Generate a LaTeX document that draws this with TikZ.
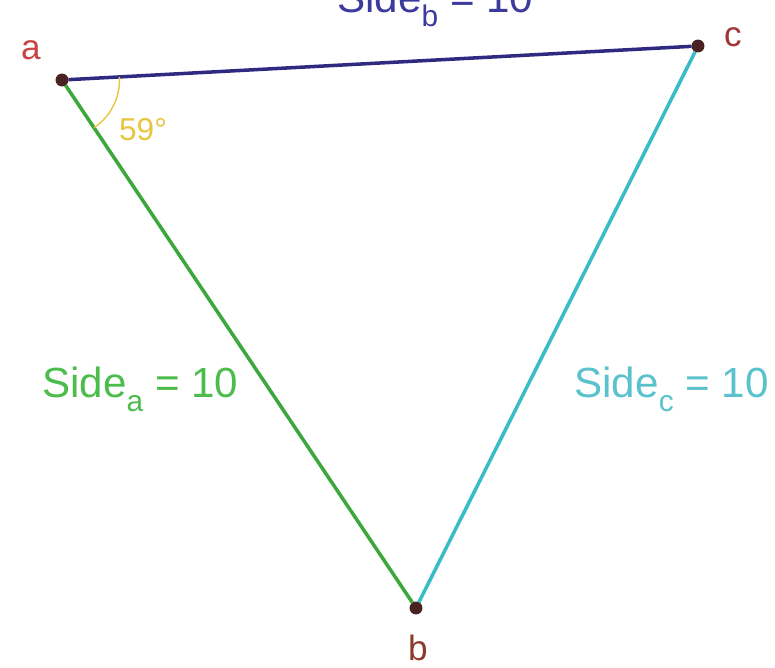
\documentclass[tikz,border=0pt]{standalone}
\usepackage{fontspec}
\setmainfont{Liberation Sans}
\usepackage{xcolor}
\usetikzlibrary{calc}
\definecolor{sidebline}{HTML}{2F2A80}
\definecolor{sidebtext}{HTML}{3C3A9C}
\definecolor{sidealine}{HTML}{3CA83C}
\definecolor{sideatext}{HTML}{4CBC4C}
\definecolor{sidecline}{HTML}{38BCC8}
\definecolor{sidectext}{HTML}{5AC2CC}
\definecolor{vertexcol}{HTML}{4A2222}
\definecolor{ptred}{HTML}{C84444}
\definecolor{ptbrown}{HTML}{8C3A2C}
\definecolor{anglecol}{HTML}{E6C640}
\tikzset{
    vertex/.style={circle, fill=vertexcol, inner sep=2.6pt, outer sep=0pt},
    ptlabel/.style={font=\fontsize{20}{24}\selectfont},
    sidelabel/.style={font=\fontsize{24}{28}\selectfont, anchor=base west, inner sep=0pt},
    sideline/.style={line width=2pt}
}
\newcommand{\sidesub}[1]{\raisebox{-0.6ex}{\fontsize{17}{17}\selectfont #1}}

\begin{document}
\begin{tikzpicture}[x=0.02cm, y=-0.02cm]
        \useasboundingbox (0,0) rectangle (775,668);

        \node[vertex] (a) at (62,80) {};
        \node[vertex] (c) at (698,46) {};
        \node[vertex] (b) at (416,608) {};

        \draw[sideline, sidebline] (a) -- (c);
        \draw[sideline, sidealine] (a) -- (b);
        \draw[sideline, sidecline] (c) -- (b);

        \draw[anglecol, line width=0.8pt] ([shift={(-56.2:1.15cm)}]a.center)
            arc[start angle=-56.2, end angle=3, radius=1.15cm];
        \node[anglecol, font=\fontsize{18}{20}\selectfont] (angle) at (143,130) {59°};

        \node[ptlabel, text=ptred] (la) at (31,50) {a};
        \node[ptlabel, text=ptred!80!black] (lc) at (733,37) {c};
        \node[ptlabel, text=ptbrown] (lb) at (418,648) {b};

        \node[sidelabel, text=sidebtext] (sb) at (337,13) {Side\sidesub{b} = 10};
        \node[sidelabel, text=sideatext] (sa) at (42,398) {Side\sidesub{a} = 10};
        \node[sidelabel, text=sidectext] (sc) at (574,398) {Side\sidesub{c} = 10};
    \end{tikzpicture}
\end{document}
